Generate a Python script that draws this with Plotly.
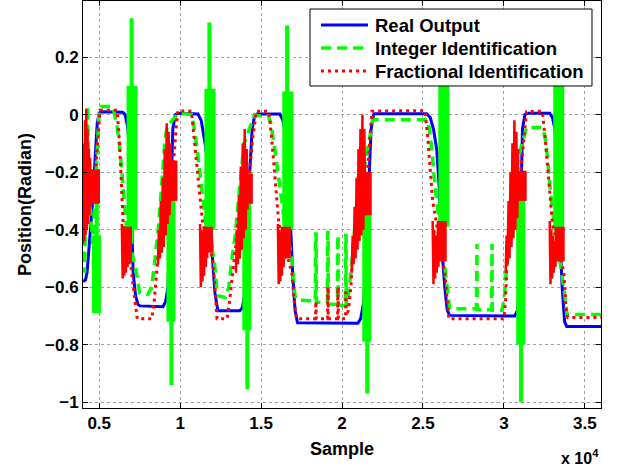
import plotly.graph_objects as go

# ---------------- data (x in samples) ----------------
blue_x = [4000, 4150, 4250, 4400, 4600, 4750, 4880, 5000, 5110,
          6450, 6600, 6750, 6900, 7000, 7100, 7250, 7400, 7520,
          8940, 9100, 9250, 9350, 9450, 9550, 9700, 9860,
          11100, 11300, 11450, 11600, 11850, 12000, 12150, 12330,
          13690, 13850, 14000, 14150, 14300, 14450, 14600, 14740,
          16160, 16350, 16500, 16650, 16800, 16950, 17100, 17250,
          20980, 21150, 21350, 21500, 21650, 21800, 21950, 22030,
          25235, 25450, 25650, 25850, 26000, 26150, 26350, 26500, 26650,
          30670, 30850, 30950, 31050, 31150, 31300, 31470,
          32830, 33000, 33150, 33300, 33450, 33600, 33750, 33880, 36000]
blue_y = [-0.58, -0.575, -0.55, -0.45, -0.3, -0.15, -0.03, 0.005, 0.01,
          0.008, 0.0, -0.04, -0.12, -0.35, -0.55, -0.63, -0.66, -0.665,
          -0.668, -0.65, -0.6, -0.45, -0.2, -0.05, 0.0, 0.005,
          0.002, -0.02, -0.07, -0.12, -0.3, -0.5, -0.62, -0.682,
          -0.682, -0.67, -0.62, -0.45, -0.2, -0.05, -0.005, 0.002,
          0.002, -0.02, -0.07, -0.15, -0.35, -0.55, -0.68, -0.724,
          -0.725, -0.71, -0.65, -0.45, -0.2, -0.05, 0.0, 0.003,
          0.003, -0.01, -0.05, -0.12, -0.25, -0.45, -0.6, -0.68, -0.698,
          -0.70, -0.68, -0.6, -0.3, -0.05, 0.0, 0.005,
          0.005, -0.01, -0.05, -0.15, -0.4, -0.6, -0.72, -0.737, -0.737]

green_x = [4000, 4100, 4200, 4280, 4400, 4600, 4900, 5000, 5100,
           5850, 5950, 6100, 6250, 6400, 6550, 6700, 7300, 7500, 8000,
           8250, 8450, 8650, 8850, 9050, 9200, 9800, 9900,
           10700, 10850, 11000, 11200, 11400, 11600, 12100, 12300, 12800,
           13000, 13200, 13400, 13600, 13800, 13950, 14600, 14750,
           15450, 15600, 15800, 16000, 16200, 16400, 16900, 17100, 17250,
           18350, 18370, 18400, 18420, 19100, 19110, 19140, 19150,
           19720, 19730, 19760, 19770, 20210, 20220, 20250, 20260,
           20400, 20550, 20700, 20850, 21000, 21900, 22100,
           25300, 25400, 25550, 25700, 25850, 26500, 26650,
           28300, 28310, 28340, 28350, 29230, 29240, 29270, 29280,
           29900, 30050, 30200, 30350, 30500, 30650, 31400, 31500,
           32400, 32550, 32700, 32850, 33000, 33700, 33900, 36000]
green_y = [-0.42, -0.55, -0.2, 0.03, -0.3, -0.45, -0.1, 0.02, 0.028,
           0.028, 0.0, -0.04, -0.1, -0.2, -0.3, -0.4, -0.55, -0.62, -0.625,
           -0.6, -0.5, -0.4, -0.25, -0.1, -0.04, 0.0, 0.005,
           0.0, -0.04, -0.1, -0.2, -0.3, -0.38, -0.5, -0.63, -0.636,
           -0.6, -0.5, -0.42, -0.3, -0.18, -0.1, 0.0, -0.003,
           -0.005, -0.03, -0.1, -0.18, -0.28, -0.35, -0.5, -0.63, -0.645,
           -0.648, -0.415, -0.415, -0.652, -0.655, -0.41, -0.41, -0.658,
           -0.66, -0.42, -0.42, -0.662, -0.665, -0.42, -0.42, -0.665,
           -0.62, -0.55, -0.45, -0.35, -0.3, -0.02, -0.018,
           -0.018, -0.05, -0.12, -0.22, -0.3, -0.6, -0.675,
           -0.675, -0.45, -0.45, -0.678, -0.678, -0.45, -0.45, -0.68,
           -0.68, -0.62, -0.5, -0.4, -0.3, -0.2, -0.045, -0.045,
           -0.045, -0.08, -0.15, -0.25, -0.33, -0.6, -0.695, -0.695]

red_x = [4500, 4700, 4900, 5050,
         6100, 6200, 6300, 6400, 6500, 6900, 7150, 7350, 8250,
         8400, 8550, 8700, 9300, 9550, 9750, 9860,
         10700, 10800, 10950, 11100, 11250, 11400, 12000, 12150, 12280, 12900,
         13050, 13250, 13450, 13600, 14200, 14450, 14700,
         15450, 15500, 15650, 15800, 15950, 16100, 16900, 17050, 17200,
         18370, 18380, 18400, 18410, 19110, 19120, 19140, 19150,
         19730, 19740, 19760, 19770, 20220, 20230, 20250, 20260,
         20400, 20550, 20700, 21500, 21700, 21850,
         25100, 25150, 25300, 25450, 25600, 26350, 26500, 26600,
         30000, 30100, 30200, 30300, 30950, 31200, 31400,
         32350, 32400, 32550, 32700, 32850, 33000, 33700, 33850, 33950, 36000]
red_y = [-0.3, -0.25, -0.1, 0.015,
         0.015, -0.05, -0.15, -0.28, -0.4, -0.5, -0.62, -0.71, -0.71,
         -0.65, -0.55, -0.45, -0.3, -0.2, -0.05, 0.013,
         0.012, -0.05, -0.13, -0.22, -0.3, -0.38, -0.5, -0.6, -0.71, -0.71,
         -0.65, -0.55, -0.45, -0.35, -0.25, -0.1, 0.012,
         0.012, 0.0, -0.08, -0.18, -0.28, -0.38, -0.55, -0.65, -0.71,
         -0.71, -0.65, -0.65, -0.71, -0.71, -0.6, -0.6, -0.71,
         -0.71, -0.6, -0.6, -0.71, -0.71, -0.62, -0.62, -0.7,
         -0.68, -0.6, -0.45, -0.25, -0.1, 0.012,
         0.014, 0.0, -0.08, -0.18, -0.3, -0.55, -0.65, -0.71,
         -0.71, -0.65, -0.5, -0.35, -0.25, -0.1, 0.01,
         0.012, 0.0, -0.08, -0.18, -0.3, -0.38, -0.55, -0.68, -0.705, -0.705]

# red oscillation bursts (explicit points, groups separated by None)
red_zig_x = [4000, 4040, 4080, 4120, 4160, 4200, 4240, 4280, 4320, 4360, 4400, 4440, 4480, 4520, None,
             8630, 8690, 8750, 8810, 8870, 8930, 8990, 9050, 9110, 9170, 9230, 9290, 9350, 9410, 9470, None,
             13450, 13510, 13570, 13630, 13690, 13750, 13810, 13870, 13930, 13990, 14050, 14110, 14170, None,
             20600, 20660, 20720, 20780, 20840, 20900, 20960, 21020, 21080, 21140, 21200, 21260, 21320, 21380, 21440, None,
             30110, 30170, 30230, 30290, 30350, 30410, 30470, 30530, 30590, 30650, 30710, 30770, 30830, 30890, None,
             6400, 6450, 6500, 6550, 6600, 6650, 6700, 6750, 6800, 6850, None,
             11230, 11280, 11330, 11380, 11430, 11480, 11530, 11580, 11630, 11680, None,
             16040, 16090, 16140, 16190, 16240, 16290, 16340, 16390, 16440, 16490, None,
             25600, 25650, 25700, 25750, 25800, 25850, 25900, 25950, 26000, 26050, None,
             32830, 32880, 32930, 32980, 33030, 33080, 33130, 33180, 33230, 33280]
red_zig_y = [-0.45, -0.1, -0.44, -0.02, -0.42, 0.02, -0.4, -0.05, -0.38, -0.12, -0.35, -0.15, -0.32, -0.2, None,
             -0.52, -0.4, -0.5, -0.3, -0.48, -0.22, -0.46, -0.12, -0.42, -0.03, -0.38, -0.06, -0.35, -0.1, -0.3, None,
             -0.55, -0.4, -0.52, -0.28, -0.5, -0.18, -0.47, -0.1, -0.43, -0.05, -0.4, -0.12, -0.33, None,
             -0.55, -0.42, -0.52, -0.32, -0.5, -0.22, -0.47, -0.12, -0.44, -0.05, -0.42, 0.0, -0.4, -0.05, -0.35, None,
             -0.55, -0.42, -0.52, -0.3, -0.5, -0.2, -0.46, -0.1, -0.43, -0.02, -0.4, -0.06, -0.36, -0.12, None,
             -0.38, -0.57, -0.4, -0.56, -0.42, -0.55, -0.43, -0.53, -0.45, -0.52, None,
             -0.38, -0.6, -0.4, -0.58, -0.42, -0.56, -0.44, -0.53, -0.45, -0.5, None,
             -0.38, -0.59, -0.4, -0.58, -0.42, -0.56, -0.44, -0.53, -0.45, -0.5, None,
             -0.37, -0.59, -0.4, -0.57, -0.42, -0.55, -0.44, -0.53, -0.45, -0.51, None,
             -0.37, -0.59, -0.4, -0.57, -0.42, -0.55, -0.44, -0.53, -0.45, -0.51]

red_block_x = [4740, 9525, 14185, 21530, 31100, 6720, 11720, 16530, 26160, 33450]
red_block_lo = [-0.31, -0.30, -0.31, -0.35, -0.30, -0.51, -0.48, -0.50, -0.51, -0.51]
red_block_hi = [-0.19, -0.16, -0.205, -0.20, -0.195, -0.39, -0.39, -0.39, -0.37, -0.39]

green_bar_x = [4830, 9430, 14120, 21530, 31040, 7030, 11840, 16650, 26290, 33390]
green_bar_lo = [-0.69, -0.72, -0.75, -0.79, -0.80, -0.40, -0.40, -0.40, -0.39, -0.40]
green_bar_hi = [-0.42, -0.20, -0.20, -0.31, -0.20, 0.10, 0.09, 0.08, 0.12, 0.12]

green_spike_x = [4850, 9460, 14150, 21560, 31060, 7000, 11810, 16610, 26250, 33420]
green_spike_lo = [-0.69, -0.94, -0.955, -0.97, -1.0, -0.45, -0.45, -0.45, -0.48, -0.50]
green_spike_hi = [-0.20, -0.30, -0.30, -0.25, -0.20, 0.335, 0.32, 0.31, 0.30, 0.30]

x_tickvals = [5000, 10000, 15000, 20000, 25000, 30000, 35000]
x_ticktext = ["0.5", "1", "1.5", "2", "2.5", "3", "3.5"]
y_tickvals = [-1, -0.8, -0.6, -0.4, -0.2, 0, 0.2]

series_names = ["Real Output", "Integer Identification", "Fractional Identification"]

BLUE = "#0000ff"
GREEN = "#00ff00"
RED = "#ff0000"
GREEN_DASH = "10px,6px"
RED_DOT = "3px,4px"


def segments(xs, los, his):
    sx, sy = [], []
    for x, lo, hi in zip(xs, los, his):
        sx += [x, x, None]
        sy += [lo, hi, None]
    return sx, sy


fig = go.Figure()
fig.add_trace(go.Scatter(x=blue_x, y=blue_y, mode="lines", name=series_names[0],
                         showlegend=False, line=dict(color=BLUE, width=3)))
gx, gy = segments(green_spike_x, green_spike_lo, green_spike_hi)
fig.add_trace(go.Scatter(x=gx, y=gy, mode="lines", showlegend=False, hoverinfo="skip",
                         line=dict(color=GREEN, width=4)))
gx, gy = segments(green_bar_x[:5], green_bar_lo[:5], green_bar_hi[:5])
fig.add_trace(go.Scatter(x=gx, y=gy, mode="lines", showlegend=False, hoverinfo="skip",
                         line=dict(color=GREEN, width=9)))
gx, gy = segments(green_bar_x[5:], green_bar_lo[5:], green_bar_hi[5:])
fig.add_trace(go.Scatter(x=gx, y=gy, mode="lines", showlegend=False, hoverinfo="skip",
                         line=dict(color=GREEN, width=11)))
fig.add_trace(go.Scatter(x=green_x, y=green_y, mode="lines", name=series_names[1],
                         showlegend=False, line=dict(color=GREEN, width=3.5, dash=GREEN_DASH)))
fig.add_trace(go.Scatter(x=red_zig_x, y=red_zig_y, mode="lines", showlegend=False,
                         hoverinfo="skip", line=dict(color=RED, width=2.5)))
rx, ry = segments(red_block_x, red_block_lo, red_block_hi)
fig.add_trace(go.Scatter(x=rx, y=ry, mode="lines", showlegend=False, hoverinfo="skip",
                         line=dict(color=RED, width=10)))
fig.add_trace(go.Scatter(x=red_x, y=red_y, mode="lines", name=series_names[2],
                         showlegend=False, line=dict(color=RED, width=3, dash=RED_DOT)))

font_family = "Liberation Sans, Arial, sans-serif"
axis_common = dict(showline=True, linecolor="black", linewidth=1, mirror="ticks",
                   ticks="inside", ticklen=5, tickcolor="black", automargin=False,
                   showgrid=True, gridcolor="#a0a0a0", griddash="dot", gridwidth=1,
                   zeroline=False,
                   tickfont=dict(family=font_family, size=17, color="black", weight="bold"))

fig.update_layout(
    width=621, height=469,
    margin=dict(l=83, r=20, t=1, b=61, pad=0, autoexpand=False),
    paper_bgcolor="white", plot_bgcolor="white",
    font=dict(family=font_family, color="black"),
    xaxis=dict(range=[4000, 36000], tickvals=x_tickvals, ticktext=x_ticktext,
               title=dict(text="Sample", standoff=9,
                          font=dict(family=font_family, size=18, weight="bold")),
               **axis_common),
    yaxis=dict(range=[-1.02, 0.395], tickvals=y_tickvals,
               title=dict(text="Position(Radian)", standoff=8,
                          font=dict(family=font_family, size=18, weight="bold")),
               **axis_common),
    showlegend=False,
)

# legend box (drawn in paper coordinates, above the data)
fig.add_shape(type="rect", xref="paper", yref="paper", x0=0.4382, x1=0.9826,
              y0=0.7912, y1=0.9803, fillcolor="white", line=dict(color="black", width=1),
              layer="above")
legend_rows_y = [0.941, 0.8845, 0.828]
legend_styles = [dict(color=BLUE, width=3), dict(color=GREEN, width=3.5, dash=GREEN_DASH),
                 dict(color=RED, width=3, dash=RED_DOT)]
for name, ry_, st in zip(series_names, legend_rows_y, legend_styles):
    fig.add_shape(type="line", xref="paper", yref="paper", x0=0.4595, x1=0.5502,
                  y0=ry_, y1=ry_, line=st, layer="above")
    fig.add_annotation(text=name, xref="paper", yref="paper", x=0.5598, y=ry_,
                       xanchor="left", yanchor="middle", showarrow=False,
                       font=dict(family=font_family, size=18.5, color="black", weight="bold"))

fig.add_annotation(text="<b>x 10<sup>4</sup></b>", xref="paper", yref="paper",
                   x=1.0, y=-0.09, xanchor="right", yanchor="top", showarrow=False,
                   font=dict(family=font_family, size=16, color="black"))

fig.write_html("out.html", config={"displayModeBar": False},
               post_script="document.body.style.margin='0';document.body.style.overflow='hidden';")
